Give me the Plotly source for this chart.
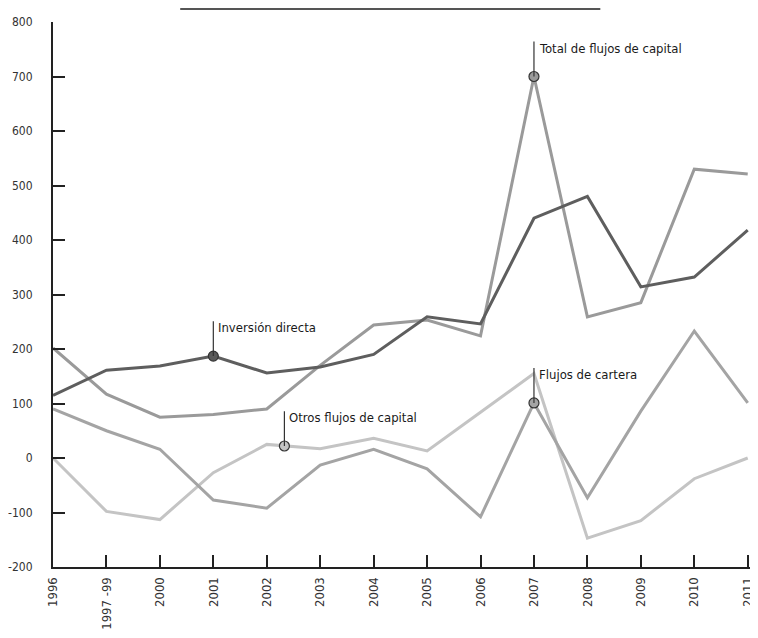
import plotly.graph_objects as go

# categories on the x axis
periodos = ["1996", "1997 -99", "2000", "2001", "2002", "2003", "2004", "2005",
            "2006", "2007", "2008", "2009", "2010", "2011"]

# y axis ticks
y_ticks = [-200, -100, 0, 100, 200, 300, 400, 500, 600, 700, 800]

# series values
inversion_directa = [115, 161, 169, 187, 156, 167, 190, 259, 246, 440, 480, 314, 332, 418]
total_flujos = [202, 117, 75, 80, 90, 170, 244, 253, 224, 700, 259, 285, 530, 521]
flujos_cartera = [90, 50, 16, -77, -92, -13, 16, -20, -108, 101, -73, 86, 233, 101]
otros_flujos = [0, -98, -113, -27, 25, 17, 36, 13, 84, 155, -147, -115, -38, 0]

# labelled points: (label, x position, value, fill)
etiquetas = [
    ("Inversión directa", 3, 187, "#5a5a5a"),
    ("Total de flujos de capital", 9, 700, "#9a9a9a"),
    ("Flujos de cartera", 9, 101, "#a4a4a4"),
    ("Otros flujos de capital", 4.33, 22, "#c4c4c4"),
]

FONT = "DejaVu Sans Condensed, Liberation Sans Narrow, Roboto, sans-serif"
xs = list(range(len(periodos)))

fig = go.Figure()

series = [
    ("Otros flujos de capital", otros_flujos, "#c4c4c4"),
    ("Flujos de cartera", flujos_cartera, "#a4a4a4"),
    ("Total de flujos de capital", total_flujos, "#9a9a9a"),
    ("Inversión directa", inversion_directa, "#5e5e5e"),
]
for name, vals, color in series:
    fig.add_trace(go.Scatter(x=xs, y=vals, mode="lines", name=name,
                             line=dict(color=color, width=3), cliponaxis=False))

# leader lines, markers and labels
for label, x, y, color in etiquetas:
    fig.add_shape(type="line", x0=x, x1=x, y0=y, y1=y + 64,
                  line=dict(color="#333333", width=1.2))
    fig.add_annotation(x=x, y=y + 52, text=label, showarrow=False,
                       xanchor="left", yanchor="middle", xshift=3,
                       font=dict(family=FONT, size=13, color="#1a1a1a"))
fig.add_trace(go.Scatter(
    x=[e[1] for e in etiquetas], y=[e[2] for e in etiquetas], mode="markers",
    marker=dict(size=10, color=[e[3] for e in etiquetas],
                line=dict(color="#333333", width=1.2)),
    cliponaxis=False))

# rule above the chart
fig.add_shape(type="line", xref="paper", yref="paper", x0=0.182, x1=0.783,
              y0=1.024, y1=1.024, line=dict(color="#555555", width=2))

# the page body adds an 8px offset, so the figure is sized to fit inside the window
fig.update_layout(
    width=750, height=622, showlegend=False,
    plot_bgcolor="white", paper_bgcolor="white",
    margin=dict(l=45, r=6, t=14, b=63),
    font=dict(family=FONT, size=13, color="#333333"),
    xaxis=dict(range=[0, 13.08], tickvals=xs, ticktext=periodos, tickangle=-90,
               showgrid=False, zeroline=False, showline=True, linecolor="#222222",
               linewidth=2, ticks="inside", ticklen=12, tickwidth=1.5,
               tickcolor="#222222", tickfont=dict(size=13), ticklabelstandoff=3,
               automargin=False),
    yaxis=dict(range=[-200, 800], tickvals=y_ticks,
               ticktext=[str(v) for v in y_ticks], showgrid=False, zeroline=False,
               showline=True, linecolor="#222222", linewidth=2, ticks="inside",
               ticklen=12, tickwidth=1.5, tickcolor="#222222",
               tickfont=dict(size=12), ticklabelstandoff=16, automargin=False),
)

fig.write_html("out.html")
